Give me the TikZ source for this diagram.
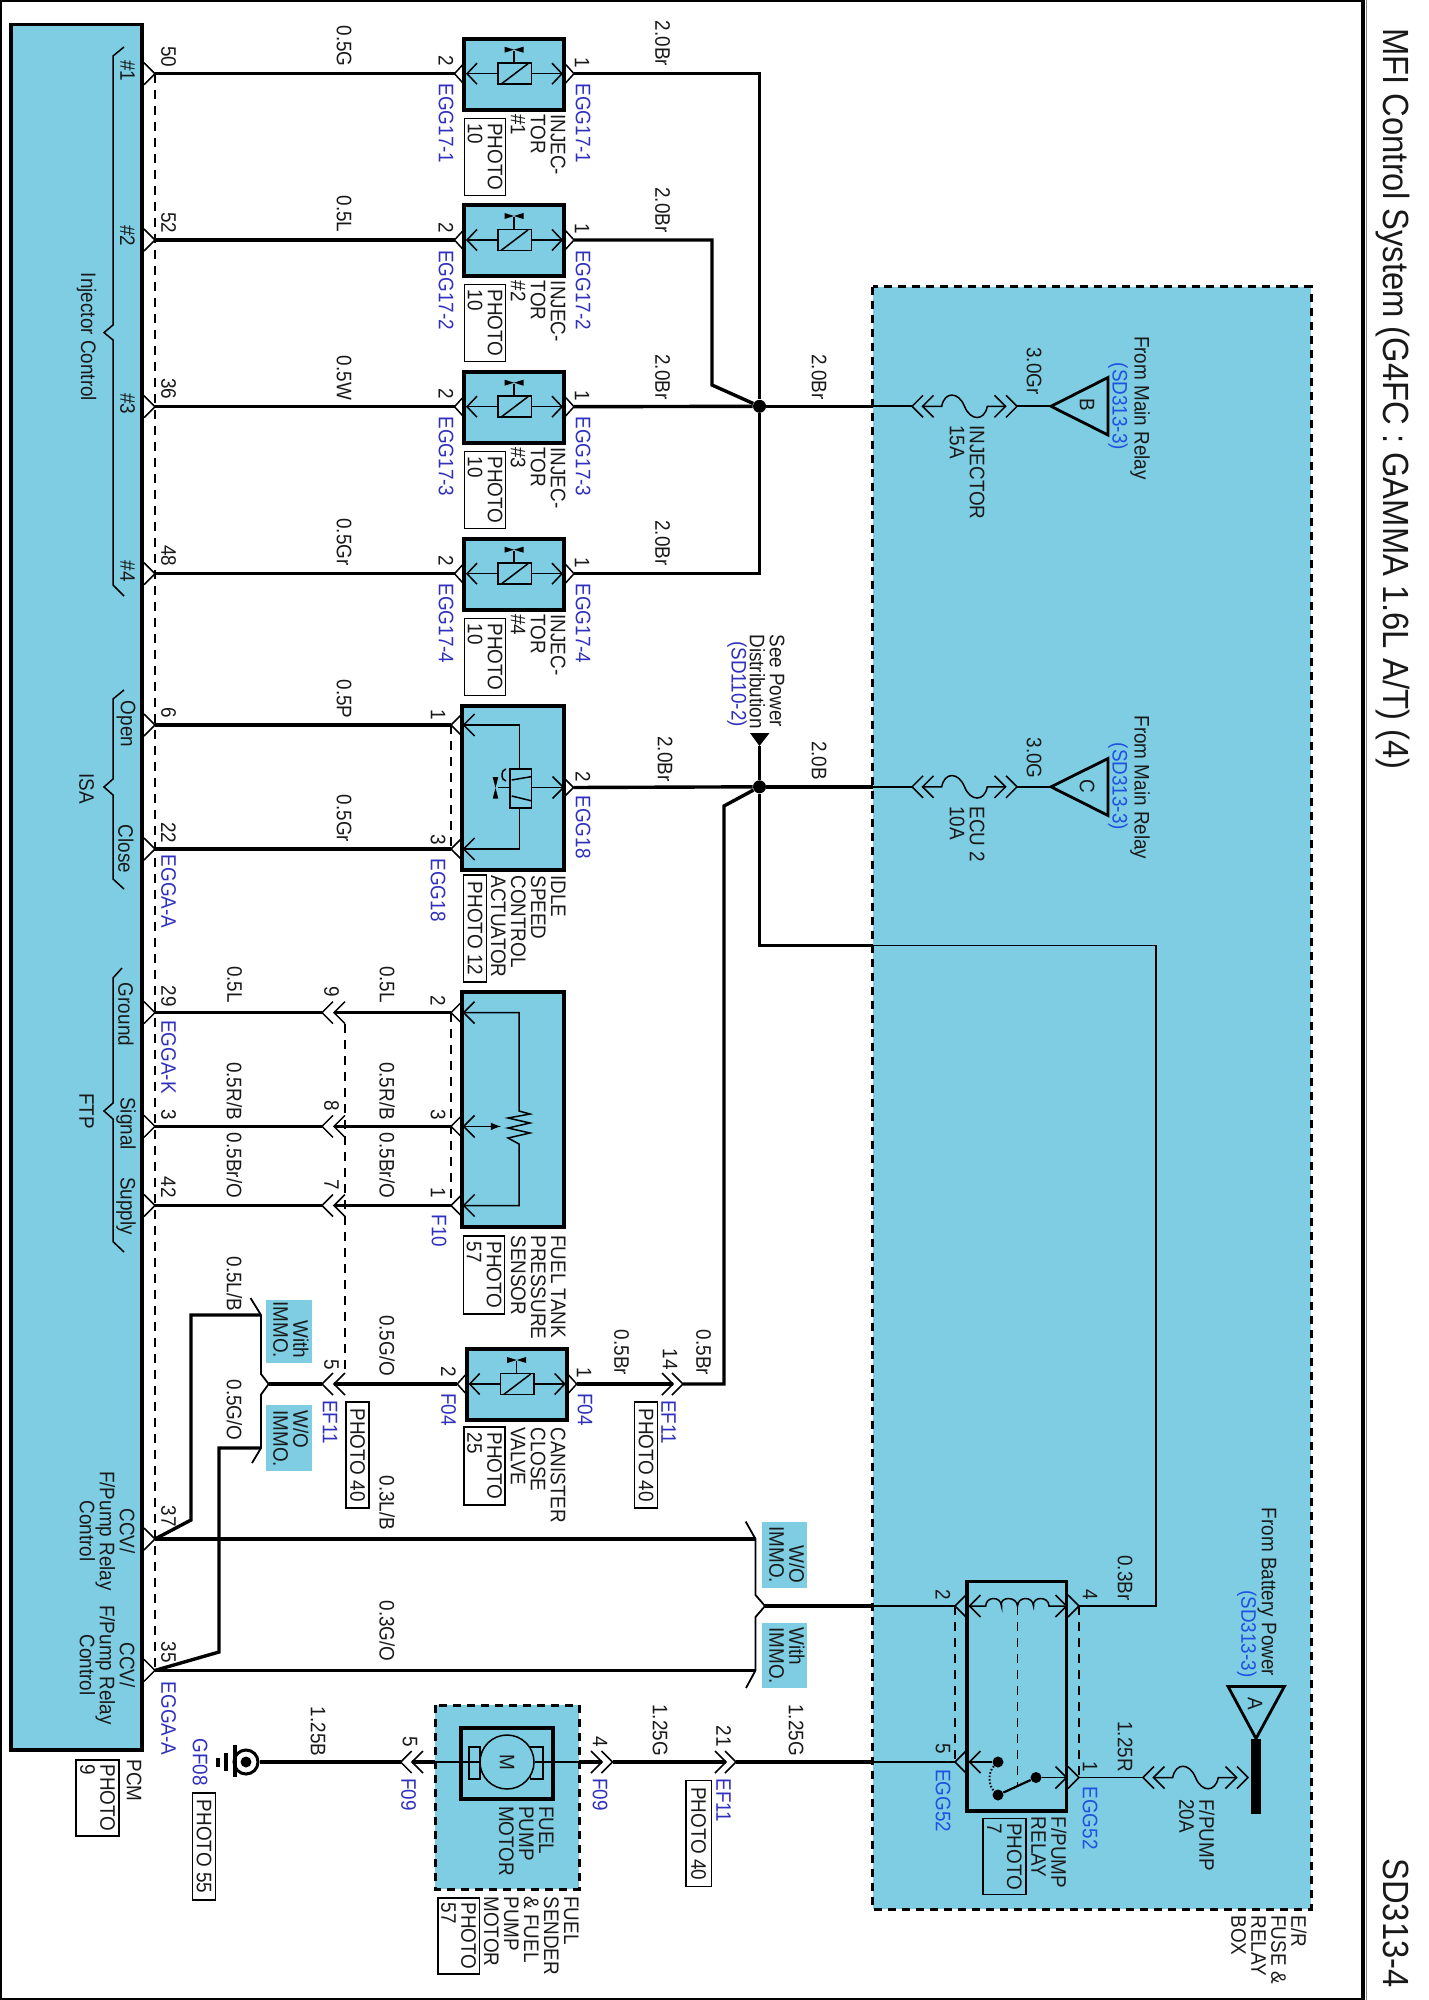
\documentclass[tikz,border=0pt]{standalone}
\usepackage{fontspec}
\setmainfont[FakeStretch=0.9]{Liberation Sans}
\definecolor{panel}{RGB}{126,205,227}
\definecolor{refblue}{RGB}{48,48,190}
\definecolor{refbright}{RGB}{30,80,225}
\newcommand{\lblfont}{\fontsize{10.5}{10}\selectfont}
\newcommand{\headfont}{\fontsize{18.2}{20}\selectfont}

\begin{document}
\begin{tikzpicture}[x=.5pt,y=-.5pt,font=\lblfont]
    \tikzstyle{txt}=[rotate=-90,inner sep=0,align=left,text=black!90]
    \tikzstyle{ref}=[txt,text=refblue]
    \tikzstyle{refb}=[txt,text=refbright]
    \tikzstyle{multi}=[xshift=1pt,txt,anchor=north west]
    \tikzstyle{head}=[txt,anchor=base west,font=\headfont]
    \tikzstyle{photo}=[txt,draw,line width=.6pt]
    \tikzstyle{wire}=[line width=1.7pt]
    \tikzstyle{thinwire}=[line width=.9pt]
    \tikzstyle{pinline}=[line width=.75pt]
    \tikzstyle{dashes}=[line width=.6pt,dash pattern=on 4.5pt off 3.5pt]
    \tikzstyle{unit}=[line width=1.9pt,fill=panel]
    \tikzstyle{ebox}=[line width=1.5pt,dash pattern=on 4pt off 3pt,fill=panel]
    \tikzstyle{jnode}=[circle,fill=black,inner sep=0,minimum size=6.5pt]
    \tikzstyle{swnode}=[circle,fill=black,inner sep=0,minimum size=5.5pt]
    \tikzset{
        pics/chevL/.style={code={
            \coordinate (-t) at (0,0);
            \draw[pinline] (11,-11) -- (0,0) -- (11,11);
        }},
        pics/chevR/.style={code={
            \coordinate (-t) at (0,0);
            \draw[pinline] (-11,-11) -- (0,0) -- (-11,11);
        }},
        pics/injector/.style={code={
            \coordinate (-L) at (-59.5,0);
            \coordinate (-R) at (60,0);
            \draw[unit] (-50,-35) rectangle (50,36);
            \draw[pinline] (-50,-10.5) -- (-59.5,0) -- (-50,10.5);
            \draw[pinline] (50.5,-10.5) -- (60,0) -- (50.5,10.5);
            \draw[pinline] (-37,-10.5) -- (-47,0) -- (-37,10.5);
            \draw[pinline] (38,-10.5) -- (48,0) -- (38,10.5);
            \draw[pinline] (-47,0) -- (-16,0);
            \draw[pinline] (17.4,0) -- (48,0);
            \draw[pinline] (-16,-10.5) rectangle (17.4,10.5);
            \draw[pinline] (-13,10.5) -- (14,-10);
            \draw[pinline] (0,-10.5) -- (0,-23);
            \fill (-9.5,-27) -- (9.5,-21) -- (9.5,-27) -- (-9.5,-21) -- cycle;
        }},
        pics/fuse/.style={code={
            \coordinate (-L) at (-52.5,0);
            \coordinate (-R) at (52.5,0);
            \draw[pinline] (-41.5,-11) -- (-52.5,0) -- (-41.5,11);
            \draw[pinline] (-31,-11) -- (-42,0) -- (-31,11);
            \draw[pinline] (30,-11) -- (41,0) -- (30,11);
            \draw[pinline] (41.5,-11) -- (52.5,0) -- (41.5,11);
            \draw[pinline] (-42,0) -- (-22.8,0) .. controls (-20,-15) and (-6,-15) .. (0,0) .. controls (6,15) and (20,15) .. (22.8,0) -- (41,0);
        }}
    }
    \useasboundingbox (0,0) rectangle (1428,2000);

    % frame
    \draw[line width=.6pt] (1363,1) -- (1,1) -- (1,1999) -- (1363,1999);
    \draw[line width=2pt] (1363,0) -- (1363,2000);
    \draw[line width=.4pt,black!50] (1366,0) -- (1366,2000);
    \node (title) [head] at (1383,28) {MFI Control System (G4FC : GAMMA 1.6L A/T) (4)};
    \node (sheet) [head] at (1383,1858) {SD313-4};

    % boxes
    \draw[ebox] (872.5,286.6) rectangle (1311,1909);
    \draw[unit] (11,24.5) rectangle (142,1750);
    \draw[ebox] (435,1705) rectangle (579,1889);

    % pcm pins
    \pic (p50) at (155,73.7) {chevR};
    \pic (p52) at (155,240) {chevR};
    \pic (p36) at (155,406.7) {chevR};
    \pic (p48) at (155,573.7) {chevR};
    \pic (p6) at (155,725) {chevR};
    \pic (p22) at (155,849) {chevR};
    \pic (p29) at (155,1012.6) {chevR};
    \pic (p3) at (155,1126.4) {chevR};
    \pic (p42) at (155,1205.5) {chevR};
    \pic (p37) at (155,1539) {chevR};
    \pic (p35) at (155,1670.4) {chevR};
    \draw[dashes] (p50-t) -- (p35-t);

    % injectors
    \pic (inj1) at (514,73.7) {injector};
    \pic (inj2) at (514,240) {injector};
    \pic (inj3) at (514,406.7) {injector};
    \pic (inj4) at (514,573.7) {injector};
    \pic (cnv) at (516.7,1384) {injector};

    \node (j1) [jnode] at (759.5,406.3) {};
    \node (j2) [jnode] at (759.5,786.8) {};
    \coordinate (k2a) at (712,240);
    \coordinate (k2b) at (712,385);
    \coordinate (er1) at (873,406.3);
    \coordinate (er2) at (873,786.8);
    \draw[wire] (p50-t) -- (inj1-L);
    \draw[wire] (p52-t) -- (inj2-L);
    \draw[wire] (p36-t) -- (inj3-L);
    \draw[wire] (p48-t) -- (inj4-L);
    \draw[wire] (inj1-R) -| (j1);
    \draw[wire] (inj2-R) -- (k2a) -- (k2b) -- (j1);
    \draw[wire] (inj3-R) -- (j1);
    \draw[wire] (inj4-R) -| (j1);
    \draw[wire] (j1) -- (er1);
    \draw[wire] (j2) -- (er2);

    % fuses and sources
    \pic (fsB) at (964.5,406.3) {fuse};
    \pic (fsC) at (964.5,786.8) {fuse};
    \pic (fsA) at (1195.5,1777.5) {fuse};
    \coordinate (trB) at (1051,406.3);
    \coordinate (trC) at (1051,786.8);
    \coordinate (trA) at (1256,1738.5);
    \draw[line width=1.4pt] (trB) -- (1108,377.5) -- (1108,435) -- cycle;
    \draw[line width=1.4pt] (trC) -- (1108,758.5) -- (1108,815.5) -- cycle;
    \draw[line width=1.4pt] (trA) -- (1228,1686.4) -- (1284.4,1686.4) -- cycle;
    \fill (1251,1738.5) rectangle (1261,1813.5);
    \draw[thinwire] (er1) -- (fsB-L);
    \draw[thinwire] (fsB-R) -- (trB);
    \draw[thinwire] (er2) -- (fsC-L);
    \draw[thinwire] (fsC-R) -- (trC);
    \node (ltB) [txt] at (1087,405) {B};
    \node (ltC) [txt] at (1087,786) {C};
    \node (ltA) [txt] at (1255,1704) {A};

    % see power arrow
    \coordinate (spw) at (759.5,746);
    \fill (750,733) -- (769.5,733) -- (spw) -- cycle;
    \draw[wire] (spw) -- (j2);

    % idle speed actuator
    \draw[unit] (462,706) rectangle (564,870);
    \pic (isaO) at (451,725) {chevL};
    \pic (isaC) at (451,849) {chevL};
    \pic (isaP) at (573.5,787.5) {chevR};
    \pic at (463.6,725) {chevL};
    \pic at (463.6,849) {chevL};
    \pic at (563.5,787.5) {chevR};
    \draw[dashes] (isaO-t) -- (isaC-t);
    \draw[pinline] (463.6,725) -| (519.3,769);
    \draw[pinline] (463.6,849) -| (519.3,808);
    \draw[pinline] (510,769) rectangle (531.7,808);
    \draw[pinline] (511.7,780) -- (531,776.7);
    \draw[pinline] (511.7,796) -- (531,800.7);
    \draw[pinline] (531.7,787.5) -- (563.5,787.5);
    \draw[pinline] (498,787.5) -- (510,787.5);
    \draw[pinline] (506,781) arc (90:270:4 and 6);
    \fill (492.7,777) -- (498.3,777) -- (492.7,798.7) -- (498.3,798.7) -- cycle;
    \draw[wire] (p6-t) -- (isaO-t);
    \draw[wire] (p22-t) -- (isaC-t);
    \coordinate (k3) at (724,806);
    \coordinate (k4) at (724,1384);
    \draw[wire] (isaP-t) -- (j2);

    % power feed to the relay
    \coordinate (k5) at (759.5,945.5);
    \coordinate (er3) at (873,945.5);
    \coordinate (k6) at (1156,945.5);
    \draw[wire] (j2) -- (k5) -- (er3);

    % fuel tank pressure sensor
    \draw[unit] (462,991.6) rectangle (564,1227);
    \pic (fpG) at (451,1012.6) {chevL};
    \pic (fpS) at (451,1126.4) {chevL};
    \pic (fpP) at (451,1205.5) {chevL};
    \pic at (463.6,1012.6) {chevL};
    \pic at (463.6,1126.4) {chevL};
    \pic at (463.6,1205.5) {chevL};
    \draw[dashes] (fpG-t) -- (fpP-t);
    \draw[pinline] (463.6,1012.6) -| (519,1111) -- (530,1114) -- (508,1118) -- (530,1123) -- (508,1128) -- (530,1133) -- (508,1138) -- (519,1144) |- (463.6,1205.5);
    \draw[pinline,-latex] (463.6,1126.4) -- (501,1126.4);

    \pic (c9) at (322,1012.6) {chevL};
    \pic (c8) at (322,1126.4) {chevL};
    \pic (c7) at (322,1205.5) {chevL};
    \pic (c5) at (322,1384) {chevL};
    \pic (c9i) at (334,1012.6) {chevL};
    \pic (c8i) at (334,1126.4) {chevL};
    \pic (c7i) at (334,1205.5) {chevL};
    \pic (c5i) at (334,1384) {chevL};
    \coordinate (d9) at (345,1024);
    \coordinate (d5) at (345,1372);
    \draw[dashes] (d9) -- (d5);
    \draw[wire] (p29-t) -- (c9-t);
    \draw[wire] (p3-t) -- (c8-t);
    \draw[wire] (p42-t) -- (c7-t);
    \draw[wire] (c9i-t) -- (fpG-t);
    \draw[wire] (c8i-t) -- (fpS-t);
    \draw[wire] (c7i-t) -- (fpP-t);

    % canister valve and immo forks
    \pic (c14) at (673,1384) {chevR};
    \pic (c14i) at (683,1384) {chevR};
    \draw[wire] (c5i-t) -- (cnv-L);
    \draw[wire] (cnv-R) -- (c14-t);
    \draw[wire] (c14i-t) -- (k4) -- (k3) -- (j2);
    \fill[panel] (266.4,1299.6) rectangle (312,1363);
    \fill[panel] (266.4,1404.6) rectangle (312,1470.5);
    \fill[panel] (762,1521.6) rectangle (807,1587.6);
    \fill[panel] (762,1622.7) rectangle (807,1687.7);
    \coordinate (fkA) at (268.7,1384);
    \coordinate (fkB) at (261,1315);
    \coordinate (fkC) at (261,1448);
    \coordinate (fkD) at (755.5,1539);
    \coordinate (fkE) at (765,1606);
    \coordinate (fkF) at (755.5,1670.4);
    \draw[thinwire] (250.5,1298) -- (fkB) -- (261,1374) -- (fkA) -- (261,1394.6) -- (fkC) -- (252,1463);
    \draw[thinwire] (745.7,1521.6) -- (fkD) -- (755.5,1595) -- (fkE) -- (755.5,1617) -- (fkF) -- (746,1688);
    \draw[wire] (fkA) -- (c5-t);
    \coordinate (k7) at (191,1520);
    \coordinate (k8) at (191,1315);
    \coordinate (k9) at (219,1652);
    \coordinate (k10) at (219,1448);
    \draw[wire] (p37-t) -- (k7) -- (k8) -- (fkB);
    \draw[wire] (p35-t) -- (k9) -- (k10) -- (fkC);
    \draw[wire] (p37-t) -- (fkD);
    \draw[wire] (p35-t) -- (fkF);

    % fuel pump relay
    \coordinate (er4) at (873,1606);
    \coordinate (er5) at (873,1762);
    \draw[unit,fill=none] (967,1581.5) rectangle (1066.5,1811);
    \pic (rl2) at (955,1606) {chevL};
    \pic (rl5) at (955,1762) {chevL};
    \pic (rl4) at (1079,1606) {chevR};
    \pic (rl1) at (1079,1777.5) {chevR};
    \pic at (969.5,1606) {chevL};
    \pic at (969.5,1762) {chevL};
    \pic at (1066.5,1606) {chevR};
    \pic at (1066.5,1777.5) {chevR};
    \draw[dashes] (rl2-t) -- (rl5-t);
    \draw[dashes] (rl4-t) -- (rl1-t);
    \draw[dashes] (1017.5,1606) -- (1017.5,1787);
    \draw[pinline] (969.5,1606) -- (985.7,1606)
        .. controls (986,1596) and (1001,1596) .. (1001.5,1606)
        .. controls (999,1596) and (1017,1596) .. (1017.5,1606)
        .. controls (1018,1596) and (1033,1596) .. (1033.5,1606)
        .. controls (1032,1596) and (1049,1596) .. (1049,1606)
        -- (1066.5,1606);
    \node (swA) [swnode] at (998,1762) {};
    \node (swB) [swnode] at (998,1795) {};
    \node (swC) [swnode] at (1036,1777.5) {};
    \draw[pinline] (969.5,1762) -- (swA);
    \draw[pinline,line width=1.1pt] (swB) -- (swC);
    \draw[pinline] (swC) -- (1066.5,1777.5);
    \draw[pinline,densely dotted,line width=1pt] (swA) .. controls (988,1772) and (988,1785) .. (swB);
    \coordinate (k11) at (1156,1606);
    \draw[thinwire] (er3) -- (k6) -- (k11) -- (rl4-t);
    \draw[wire] (fkE) -- (er4);
    \draw[thinwire] (er4) -- (rl2-t);
    \draw[thinwire] (rl1-t) -- (fsA-L);

    % fuel pump motor and ground
    \draw[unit] (461,1727.6) rectangle (553,1799);
    \draw[pinline] (469,1747) rectangle (480,1779);
    \draw[pinline] (530.5,1747) rectangle (543,1779);
    \node (mot) [txt,circle,draw,line width=.75pt,fill=panel,minimum size=27pt] at (507,1762) {M};
    \coordinate (mtL) at (461,1762);
    \coordinate (mtR) at (553,1762);
    \coordinate (mbL) at (435,1762);
    \coordinate (mbR) at (579,1762);
    \pic (c5m) at (400.7,1762) {chevL};
    \pic (c5n) at (412,1762) {chevL};
    \pic (c4m) at (602,1762) {chevR};
    \pic (c4n) at (612.5,1762) {chevR};
    \pic (c21) at (726,1762) {chevR};
    \pic (c21i) at (736,1762) {chevR};
    \draw[thinwire] (mbL) -- (mot);
    \draw[thinwire] (mot) -- (mbR);
    \draw[wire] (c5n-t) -- (mbL);
    \draw[wire] (mbR) -- (c4m-t);
    \draw[wire] (c4n-t) -- (c21-t);
    \draw[wire] (c21i-t) -- (er5);
    \draw[thinwire] (er5) -- (rl5-t);
    \node (gnd) [circle,draw,line width=1.5pt,inner sep=0,minimum size=12pt] at (246,1762) {};
    \fill (246,1762) circle (5.5);
    \draw[wire] (gnd) -- (c5m-t);
    \draw[line width=2pt] (234.5,1745) -- (234.5,1777);
    \draw[line width=1.8pt] (226,1753) -- (226,1771);
    \draw[line width=1.8pt] (217.7,1758) -- (217.7,1767);

    % braces
    \draw[pinline] (124,47) -- (113,56) -- (113,325) -- (104,332.6) -- (113,340) -- (113,585) -- (124,596);
    \draw[pinline] (124,690) -- (113,699) -- (113,779) -- (104,787) -- (113,795) -- (113,879) -- (124,889);
    \draw[pinline] (122,968) -- (113,978) -- (113,1103) -- (104,1111) -- (113,1119) -- (113,1241.6) -- (124,1252);

    % pcm text
    \node (t1) [txt] at (127.5,71) {\#1};
    \node (t2) [txt] at (127.5,235.7) {\#2};
    \node (t3) [txt] at (127.5,404) {\#3};
    \node (t4) [txt] at (127.5,571.4) {\#4};
    \node (t5) [txt] at (86.5,337) {Injector Control};
    \node (t6) [txt] at (126,724) {Open};
    \node (t7) [txt] at (126,849) {Close};
    \node (t8) [txt] at (86.5,788.5) {ISA};
    \node (t9) [txt] at (126,1014.5) {Ground};
    \node (t10) [txt] at (126,1123.5) {Signal};
    \node (t11) [txt] at (126,1206) {Supply};
    \node (t12) [txt] at (86.5,1111) {FTP};
    \node (t13) [txt,align=center] at (107.5,1531) {CCV/\\F/Pump Relay\\Control};
    \node (t14) [txt,align=center] at (107.5,1665) {CCV/\\F/Pump Relay\\Control};
    \node (t15) [multi] at (140,1759) {PCM};
    \node (t16) [photo,minimum width=38pt,minimum height=21.5pt] at (97.5,1798) {PHOTO\\9};

    % pin numbers at the pcm
    \node (n50) [txt] at (168.5,57) {50};
    \node (n52) [txt] at (168.5,223) {52};
    \node (n36) [txt] at (168.5,389) {36};
    \node (n48) [txt] at (168.5,556) {48};
    \node (n6) [txt] at (168.5,713) {6};
    \node (n22) [txt] at (168.5,832.7) {22};
    \node (n29) [txt] at (168.5,996) {29};
    \node (n3) [txt] at (168.5,1115) {3};
    \node (n42) [txt] at (168.5,1187) {42};
    \node (n37) [txt] at (168.5,1516) {37};
    \node (n35) [txt] at (168.5,1652) {35};
    \node (r1) [ref] at (168.5,891.5) {EGGA-A};
    \node (r2) [ref] at (168.5,1057) {EGGA-K};
    \node (r3) [ref] at (168.5,1718.5) {EGGA-A};

    % injector text
    \node (w1) [txt] at (344,46) {0.5G};
    \node (w2) [txt] at (344,214) {0.5L};
    \node (w3) [txt] at (344,378) {0.5W};
    \node (w4) [txt] at (344,542) {0.5Gr};
    \node (w5) [txt] at (662.6,43.5) {2.0Br};
    \node (w6) [txt] at (662.6,210) {2.0Br};
    \node (w7) [txt] at (662.6,377) {2.0Br};
    \node (w8) [txt] at (662.6,543) {2.0Br};
    \node (i1a) [txt] at (446,61) {2};
    \node (i1b) [txt] at (582,62.5) {1};
    \node (i2a) [txt] at (446,227.5) {2};
    \node (i2b) [txt] at (582,229) {1};
    \node (i3a) [txt] at (446,394) {2};
    \node (i3b) [txt] at (582,395.5) {1};
    \node (i4a) [txt] at (446,561) {2};
    \node (i4b) [txt] at (582,562.5) {1};
    \node (e1a) [ref] at (446,123.5) {EGG17-1};
    \node (e1b) [ref] at (583,123.5) {EGG17-1};
    \node (e2a) [ref] at (446,290) {EGG17-2};
    \node (e2b) [ref] at (583,290) {EGG17-2};
    \node (e3a) [ref] at (446,456.5) {EGG17-3};
    \node (e3b) [ref] at (583,456.5) {EGG17-3};
    \node (e4a) [ref] at (446,623.5) {EGG17-4};
    \node (e4b) [ref] at (583,623.5) {EGG17-4};
    \node (l1) [multi] at (564,114) {INJEC-\\TOR\\\#1};
    \node (l2) [multi] at (564,280.5) {INJEC-\\TOR\\\#2};
    \node (l3) [multi] at (564,447) {INJEC-\\TOR\\\#3};
    \node (l4) [multi] at (564,614) {INJEC-\\TOR\\\#4};
    \node (ph1) [photo,minimum width=38.5pt,minimum height=20.7pt] at (485,156.7) {PHOTO\\10};
    \node (ph2) [photo,minimum width=38.5pt,minimum height=20.7pt] at (485,323) {PHOTO\\10};
    \node (ph3) [photo,minimum width=38.5pt,minimum height=20.7pt] at (485,490) {PHOTO\\10};
    \node (ph4) [photo,minimum width=38.5pt,minimum height=20.7pt] at (485,657) {PHOTO\\10};

    % isa text
    \node (w9) [txt] at (344,699) {0.5P};
    \node (w10) [txt] at (344,818.5) {0.5Gr};
    \node (w11) [txt] at (665,759) {2.0Br};
    \node (i5a) [txt] at (438,715) {1};
    \node (i5b) [txt] at (438,840) {3};
    \node (i5c) [txt] at (583,777) {2};
    \node (e5a) [ref] at (438,890) {EGG18};
    \node (e5b) [ref] at (583,827) {EGG18};
    \node (l5) [multi] at (564,875) {IDLE\\SPEED\\CONTROL\\ACTUATOR};
    \node (ph5) [photo,minimum width=53.5pt,minimum height=11.2pt] at (475,928.5) {PHOTO 12};

    % ftp text
    \node (w12) [txt] at (234.5,984.5) {0.5L};
    \node (w13) [txt] at (234.5,1091) {0.5R/B};
    \node (w14) [txt] at (234.5,1165.5) {0.5Br/O};
    \node (w15) [txt] at (387,984.5) {0.5L};
    \node (w16) [txt] at (387,1091) {0.5R/B};
    \node (w17) [txt] at (387,1165.5) {0.5Br/O};
    \node (c9t) [txt] at (331.5,991.6) {9};
    \node (c8t) [txt] at (331.5,1106) {8};
    \node (c7t) [txt] at (331.5,1185) {7};
    \node (c5t) [txt] at (331.5,1364.7) {5};
    \node (i6a) [txt] at (438,1000.5) {2};
    \node (i6b) [txt] at (438,1115) {3};
    \node (i6c) [txt] at (438,1193) {1};
    \node (e6) [ref] at (439,1231) {F10};
    \node (l6) [multi] at (564,1235) {FUEL TANK\\PRESSURE\\SENSOR};
    \node (ph6) [photo,minimum width=39pt,minimum height=20.5pt] at (484,1275) {PHOTO\\57};

    % canister text
    \node (w18) [txt] at (234.5,1284) {0.5L/B};
    \node (w19) [txt] at (234.5,1410) {0.5G/O};
    \node (w20) [txt] at (387,1345.5) {0.5G/O};
    \node (w21) [txt] at (387,1503) {0.3L/B};
    \node (w22) [txt] at (387,1631) {0.3G/O};
    \node (w23) [txt] at (621.6,1352.5) {0.5Br};
    \node (w24) [txt] at (703.5,1352.5) {0.5Br};
    \node (i7a) [txt] at (448.5,1372) {2};
    \node (i7b) [txt] at (584,1373) {1};
    \node (i7c) [txt] at (670,1359) {14};
    \node (e7a) [ref] at (448.5,1409.5) {F04};
    \node (e7b) [ref] at (585,1409.5) {F04};
    \node (e7c) [ref] at (668.5,1422) {EF11};
    \node (e7d) [ref] at (330,1422) {EF11};
    \node (l7) [multi] at (564,1427) {CANISTER\\CLOSE\\VALVE};
    \node (ph7) [photo,minimum width=39pt,minimum height=20.5pt] at (484.5,1466) {PHOTO\\25};
    \node (ph8) [photo,minimum width=53pt,minimum height=11.5pt] at (646,1455) {PHOTO 40};
    \node (ph9) [photo,minimum width=53pt,minimum height=11.5pt] at (357.5,1455) {PHOTO 40};
    \node (im1) [multi,align=right] at (307,1301) {With\\IMMO.};
    \node (im2) [multi] at (307,1410) {W/O\\IMMO.};
    \node (im3) [multi,align=right] at (803,1526) {W/O\\IMMO.};
    \node (im4) [multi] at (803,1627) {With\\IMMO.};

    % motor and ground text
    \node (w25) [txt] at (318,1731.5) {1.25B};
    \node (w26) [txt] at (660,1730) {1.25G};
    \node (w27) [txt] at (796,1730) {1.25G};
    \node (i8a) [txt] at (410,1741.5) {5};
    \node (i8b) [txt] at (600,1741.5) {4};
    \node (i8c) [txt] at (723.7,1736) {21};
    \node (e8a) [ref] at (408.5,1794.5) {F09};
    \node (e8b) [ref] at (600,1794.5) {F09};
    \node (e8c) [ref] at (723.7,1800.5) {EF11};
    \node (e8d) [ref] at (200,1762) {GF08};
    \node (ph10) [photo,minimum width=53.5pt,minimum height=11.4pt] at (204,1846.5) {PHOTO 55};
    \node (ph11) [photo,minimum width=53pt,minimum height=12.7pt] at (698.7,1833.7) {PHOTO 40};
    \node (l8) [multi] at (552,1805.7) {FUEL\\PUMP\\MOTOR};
    \node (l9) [multi] at (577,1896) {FUEL\\SENDER\\\& FUEL\\PUMP\\MOTOR};
    \node (ph12) [photo,minimum width=38pt,minimum height=20.7pt] at (458.7,1936) {PHOTO\\57};

    % e/r box text
    \node (w28) [txt] at (819,377) {2.0Br};
    \node (w29) [txt] at (819,760.5) {2.0B};
    \node (w30) [txt] at (1034,371) {3.0Gr};
    \node (w31) [txt] at (1034,758) {3.0G};
    \node (f1) [multi] at (983,425) {INJECTOR\\15A};
    \node (f2) [multi] at (983,806) {ECU 2\\10A};
    \node (f3) [multi] at (1213,1799) {F/PUMP\\20A};
    \node (s1) [txt] at (1140,408) {From Main Relay};
    \node (s2) [refb] at (1118,406.5) {(SD313-3)};
    \node (s3) [txt] at (1140,787.5) {From Main Relay};
    \node (s4) [refb] at (1118,786.5) {(SD313-3)};
    \node (s5) [txt] at (1267,1592) {From Battery Power};
    \node (s6) [refb] at (1246.7,1634) {(SD313-3)};
    \node (sp1) [multi] at (783,634) {See Power\\Distribution};
    \node (sp2) [ref] at (737,684) {(SD110-2)};
    \node (w32) [txt] at (1125,1578) {0.3Br};
    \node (w33) [txt] at (1125,1746.5) {1.25R};
    \node (i9a) [txt] at (943,1595) {2};
    \node (i9b) [txt] at (1090,1595) {4};
    \node (i9c) [txt] at (943,1749) {5};
    \node (i9d) [txt] at (1090,1767) {1};
    \node (e9a) [refb] at (943,1800.5) {EGG52};
    \node (e9b) [refb] at (1090,1818) {EGG52};
    \node (l10) [multi] at (1065,1816.5) {F/PUMP\\RELAY};
    \node (ph13) [photo,minimum width=38pt,minimum height=21.5pt] at (1004.5,1856.6) {PHOTO\\7};
    \node (l11) [multi] at (1305,1915) {E/R\\FUSE \&\\RELAY\\BOX};
\end{tikzpicture}
\end{document}
